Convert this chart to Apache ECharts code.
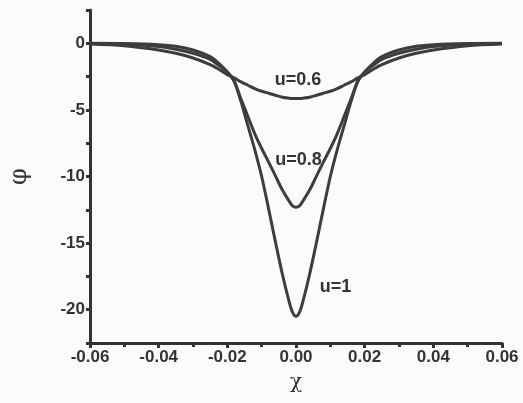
<!DOCTYPE html>
<html>
<head>
<meta charset="utf-8">
<script src="https://cdn.jsdelivr.net/npm/echarts@6/dist/echarts.min.js"></script>
<style>
  html, body { margin: 0; padding: 0; background: #fdfafb; }
  #chart { width: 523px; height: 403px; }
</style>
</head>
<body>
<div id="chart"></div>
<script>
const chi = [-0.06, -0.05, -0.04, -0.035, -0.03, -0.025, -0.0225, -0.02, -0.018, -0.016, -0.014, -0.012, -0.01, -0.008, -0.006, -0.004, -0.002, -0.001, 0,
  0.001, 0.002, 0.004, 0.006, 0.008, 0.01, 0.012, 0.014, 0.016, 0.018, 0.02, 0.0225, 0.025, 0.03, 0.035, 0.04, 0.05, 0.06]

// phi for u = 0.6, 0.8, 1
const phi06 = [-0.05, -0.18, -0.5, -0.75, -1.1, -1.6, -1.95, -2.35, -2.6, -2.9, -3.15, -3.4, -3.6, -3.75, -3.9, -4.05, -4.12, -4.14, -4.15,
  -4.14, -4.12, -4.05, -3.9, -3.75, -3.6, -3.4, -3.15, -2.9, -2.6, -2.35, -1.95, -1.6, -1.1, -0.75, -0.5, -0.18, -0.05]
const phi08 = [-0.02, -0.06, -0.25, -0.45, -0.75, -1.2, -1.65, -2.15, -2.85, -4.2, -5.5, -6.8, -7.9, -8.9, -9.95, -11.0, -11.85, -12.2, -12.3,
  -12.2, -11.85, -11.0, -9.95, -8.9, -7.9, -6.8, -5.5, -4.2, -2.85, -2.15, -1.65, -1.2, -0.75, -0.45, -0.25, -0.06, -0.02]
const phi10 = [0, -0.02, -0.1, -0.22, -0.5, -1.0, -1.5, -2.15, -2.85, -4.4, -6.2, -8.0, -10.0, -12.4, -14.9, -17.3, -19.4, -20.2, -20.5,
  -20.2, -19.4, -17.3, -14.9, -12.4, -10.0, -8.0, -6.2, -4.4, -2.85, -2.15, -1.5, -1.0, -0.5, -0.22, -0.1, -0.02, 0]

const yLabels = [0, -5, -10, -15, -20]

// curve labels
const labelText = ['u=0.6', 'u=0.8', 'u=1']
const labelChi = [0.0006, 0.0007, 0.0115]
const labelPhi = [-2.75, -8.8, -18.3]

const lineColor = '#3d3d3d'
const textColor = '#333'
const font = 'Liberation Sans, Arial, sans-serif'

function pairs(ys) {
  return chi.map((x, i) => [x, ys[i]])
}

const chart = echarts.init(document.getElementById('chart'))

const series = [phi06, phi08, phi10].map((ys) => ({
  type: 'line',
  data: pairs(ys),
  showSymbol: false,
  smooth: 0.3,
  lineStyle: { color: lineColor, width: 3 },
  silent: true,
}))

// text labels placed at data coordinates
series.push({
  type: 'scatter',
  symbolSize: 1,
  itemStyle: { color: 'transparent', opacity: 1 },
  silent: true,
  data: labelText.map((t, i) => ({ value: [labelChi[i], labelPhi[i]], name: t })),
  label: {
    show: true,
    position: 'inside',
    formatter: (p) => p.name,
    color: '#333',
    opacity: 1,
    fontFamily: font,
    fontWeight: 'bold',
    fontSize: 18,
  },
})

chart.setOption({
  backgroundColor: '#fdfafb',
  animation: false,
  grid: { left: 90, right: 21, top: 10, bottom: 60 },
  xAxis: {
    type: 'value',
    min: -0.06,
    max: 0.06,
    interval: 0.02,
    name: 'χ',
    nameLocation: 'middle',
    nameGap: 30,
    nameTextStyle: { color: textColor, fontSize: 20, fontFamily: 'DejaVu Serif' },
    axisLine: { onZero: false, lineStyle: { color: textColor, width: 3 } },
    axisTick: { length: 5, lineStyle: { color: textColor, width: 3 } },
    minorTick: { show: true, splitNumber: 2, length: 4, lineStyle: { color: textColor, width: 3 } },
    splitLine: { show: false },
    axisLabel: {
      color: textColor,
      fontFamily: font,
      fontWeight: 'bold',
      fontSize: 17,
      margin: 6,
      formatter: (v) => v.toFixed(2),
    },
  },
  yAxis: {
    type: 'value',
    min: -22.5,
    max: 2.5,
    interval: 2.5,
    name: 'φ',
    nameLocation: 'middle',
    nameGap: 58,
    nameTextStyle: { color: textColor, fontSize: 24, fontFamily: 'DejaVu Serif' },
    axisLine: { onZero: false, lineStyle: { color: textColor, width: 3 } },
    axisTick: { length: 4, lineStyle: { color: textColor, width: 3 } },
    splitLine: { show: false },
    axisLabel: {
      color: textColor,
      fontFamily: font,
      fontWeight: 'bold',
      fontSize: 17,
      margin: 5,
      formatter: (v) => (yLabels.indexOf(v) >= 0 ? String(v) : ''),
    },
  },
  series: series,
})
</script>
</body>
</html>
